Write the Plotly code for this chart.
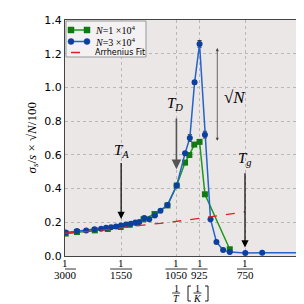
import plotly.graph_objects as go

# x values are 1/T in units of 1e-3 K^-1
blue_x = [0.3372, 0.3996, 0.4510, 0.4974, 0.5339, 0.5615, 0.5891, 0.6168, 0.6444, 0.6720,
          0.6996, 0.7240, 0.7460, 0.7737, 0.8013, 0.8322, 0.8637, 0.9024, 0.9538, 1.0002,
          1.0268, 1.0533, 1.0809, 1.1107, 1.1417, 1.1748, 1.2118, 1.2488, 1.3350, 1.4289, 1.6632]
blue_y = [0.140, 0.148, 0.152, 0.158, 0.162, 0.167, 0.171, 0.175, 0.181, 0.187,
          0.191, 0.198, 0.202, 0.226, 0.218, 0.240, 0.268, 0.302, 0.418, 0.609,
          0.700, 1.030, 1.258, 0.720, 0.218, 0.083, 0.035, 0.023, 0.018, 0.019, 0.020]
blue_err = [0, 0, 0, 0, 0, 0, 0, 0, 0, 0,
            0, 0, 0, 0, 0, 0, 0, 0, 0, 0.01,
            0.02, 0.01, 0.02, 0.02, 0, 0, 0, 0, 0, 0, 0]

green_x = [0.3372, 0.3996, 0.4989, 0.5709, 0.6427, 0.6924, 0.7366, 0.7698, 0.8306, 0.9024,
           0.9538, 1.0002, 1.0240, 1.0516, 1.0809, 1.1107, 1.2488]
green_y = [0.133, 0.142, 0.152, 0.160, 0.172, 0.185, 0.195, 0.218, 0.249, 0.300,
           0.418, 0.554, 0.599, 0.661, 0.677, 0.366, 0.040]

fit_x = [0.3333, 0.5157, 0.7366, 0.9024, 1.0681, 1.1786, 1.3333]
fit_y = [0.135, 0.150, 0.180, 0.198, 0.222, 0.238, 0.262]

tick_temps = [3000, 1550, 1050, 925, 750]
tick_vals = [1000.0 / t for t in tick_temps]
y_ticks = [0.0, 0.2, 0.4, 0.6, 0.8, 1.0, 1.2, 1.4]

legend_labels = ["<i>N</i>=1 ×10<sup>4</sup>", "<i>N</i>=3 ×10<sup>4</sup>", "Arrhenius Fit"]

SERIF = "Liberation Serif"
SANS = "DejaVu Sans"
GREEN_L, GREEN_M = "#1e991e", "#137a13"
BLUE_L, BLUE_M = "#2563c8", "#0d3f9e"
RED = "#e02020"

fig = go.Figure()
fig.add_trace(go.Scatter(
    x=green_x, y=green_y, mode="lines+markers", name=legend_labels[0],
    line=dict(color=GREEN_L, width=1.5),
    marker=dict(symbol="square", size=6, color=GREEN_M),
))
fig.add_trace(go.Scatter(
    x=blue_x, y=blue_y, mode="lines+markers", name=legend_labels[1],
    line=dict(color=BLUE_L, width=1.5),
    marker=dict(symbol="circle", size=6, color=BLUE_M),
    error_y=dict(type="data", array=blue_err, visible=True, color="#333333",
                 thickness=1, width=2),
))
fig.add_trace(go.Scatter(
    x=fit_x, y=fit_y, mode="lines", name=legend_labels[2],
    line=dict(color=RED, width=1.3, dash="dash"),
))

ann = []
shapes = []
# fraction tick labels
widths = [22, 22, 22, 16, 16]
for t, v, w in zip(tick_temps, tick_vals, widths):
    ann.append(dict(x=v, y=0, xref="x", yref="paper", text="1", showarrow=False,
                    yanchor="middle", xanchor="center", yshift=-7, borderpad=0,
                    font=dict(family=SERIF, size=11, color="black")))
    ann.append(dict(x=v, y=0, xref="x", yref="paper", text=str(t), showarrow=False,
                    yanchor="middle", xanchor="center", yshift=-19, borderpad=0,
                    font=dict(family=SERIF, size=11, color="black")))
    shapes.append(dict(type="line", xref="x", yref="paper", xsizemode="pixel",
                       ysizemode="pixel", xanchor=v, yanchor=0,
                       x0=-w / 2, x1=w / 2, y0=-13, y1=-13,
                       line=dict(color="black", width=0.8)))

# x axis title as fractions
def frac(xp, num, den, yc):
    ann.append(dict(x=xp, y=0, xref="paper", yref="paper", text=num, showarrow=False,
                    yanchor="middle", xanchor="center", yshift=yc + 5, borderpad=0,
                    font=dict(family=SERIF, size=10, color="black")))
    ann.append(dict(x=xp, y=0, xref="paper", yref="paper", text=den, showarrow=False,
                    yanchor="middle", xanchor="center", yshift=yc - 5, borderpad=0,
                    font=dict(family=SERIF, size=10, color="black", style="italic")))
    shapes.append(dict(type="line", xref="paper", yref="paper", xsizemode="pixel",
                       ysizemode="pixel", xanchor=xp, yanchor=0,
                       x0=-4, x1=4, y0=yc, y1=yc,
                       line=dict(color="black", width=0.8)))

frac(0.463, "1", "T", -37)
frac(0.552, "1", "K", -37)
# square brackets drawn as paths (pixel offsets from bottom-left of plot area)
for path in ["M 126,-30 L 123,-30 L 123,-45 L 126,-45",
             "M 140,-30 L 143,-30 L 143,-45 L 140,-45"]:
    shapes.append(dict(type="path", xref="paper", yref="paper", xsizemode="pixel",
                       ysizemode="pixel", xanchor=0, yanchor=0, path=path,
                       line=dict(color="black", width=0.9)))

# custom legend (pixel offsets from the top-left corner of the plot area)
shapes.append(dict(type="rect", xref="paper", yref="paper", xsizemode="pixel",
                   ysizemode="pixel", xanchor=0, yanchor=1, x0=1, x1=81, y0=-1, y1=-37,
                   line=dict(color="#999999", width=1), fillcolor="rgba(243,241,241,0.95)"))
rows = [-10, -21.5, -32.5]
styles = [(GREEN_L, GREEN_M, "rect", "solid"), (BLUE_L, BLUE_M, "circle", "solid"),
          (RED, None, None, "dash")]
for ry, (lc, mc, mk, dash), lab in zip(rows, styles, legend_labels):
    shapes.append(dict(type="line", xref="paper", yref="paper", xsizemode="pixel",
                       ysizemode="pixel", xanchor=0, yanchor=1, x0=6, x1=22, y0=ry, y1=ry,
                       line=dict(color=lc, width=1.5, dash=dash)))
    if mk:
        for cx in (6, 22):
            shapes.append(dict(type=mk, xref="paper", yref="paper", xsizemode="pixel",
                               ysizemode="pixel", xanchor=0, yanchor=1,
                               x0=cx - 3, x1=cx + 3, y0=ry - 3, y1=ry + 3,
                               line=dict(color=mc, width=0.5), fillcolor=mc))
    ann.append(dict(x=0, y=1, xref="paper", yref="paper", xshift=29, yshift=ry,
                    xanchor="left", yanchor="middle", text=lab, showarrow=False,
                    borderpad=0,
                    font=dict(family=SERIF if mk else SANS, size=10 if mk else 8,
                              color="black")))

# annotations with arrows
lab_font = dict(family=SERIF, size=15, color="black")
ann.append(dict(x=1000 / 1550, y=0.625, text="<i>T</i><sub><i>A</i></sub>",
                showarrow=False, font=lab_font))
ann.append(dict(x=1000 / 1550, y=0.22, ax=1000 / 1550, ay=0.56, axref="x", ayref="y",
                showarrow=True, arrowhead=2, arrowsize=1.2, arrowwidth=1.2,
                arrowcolor="black", text=""))
ann.append(dict(x=0.945, y=0.9, text="<i>T</i><sub><i>D</i></sub>",
                showarrow=False, font=lab_font))
ann.append(dict(x=1000 / 1050, y=0.515, ax=1000 / 1050, ay=0.825, axref="x", ayref="y",
                showarrow=True, arrowhead=2, arrowsize=1.2, arrowwidth=1.6,
                arrowcolor="#555555", text=""))
ann.append(dict(x=1.275, y=0.94, text="√<i>N</i>",
                showarrow=False, font=dict(family=SERIF, size=17, color="black")))
ann.append(dict(x=1.1795, y=0.683, ax=1.1795, ay=1.243, axref="x", ayref="y",
                showarrow=True, arrowhead=2, arrowside="end+start", arrowsize=0.8,
                arrowwidth=0.8, arrowcolor="#444444", text=""))
ann.append(dict(x=1000 / 750, y=0.578, text="<i>T</i><sub><i>g</i></sub>",
                showarrow=False, font=lab_font))
ann.append(dict(x=1000 / 750, y=0.05, ax=1000 / 750, ay=0.5, axref="x", ayref="y",
                showarrow=True, arrowhead=2, arrowsize=1.2, arrowwidth=1.2,
                arrowcolor="black", text=""))

# y axis label
ann.append(dict(x=0, y=0.5, xref="paper", yref="paper", xshift=-44, textangle=-90,
                text="<i>σ<sub>s</sub></i>/<i>s</i> × √<i>N</i>/100",
                showarrow=False, font=dict(family=SERIF, size=13, color="black")))

fig.update_layout(
    width=304, height=304,
    margin=dict(l=57, r=6, t=8, b=56),
    paper_bgcolor="white",
    plot_bgcolor="#ebe7e7",
    showlegend=False,
    annotations=ann,
    shapes=shapes,
    font=dict(family=SANS, size=11, color="black"),
)
fig.update_xaxes(range=[1 / 3, 5 / 3], tickvals=tick_vals, showticklabels=False,
                 showgrid=True, gridcolor="#b8b8b8", griddash="dot", gridwidth=1,
                 showline=True, linecolor="#444444", linewidth=1, mirror=True,
                 zeroline=False, ticks="")
fig.update_yaxes(range=[0, 1.4], tickvals=y_ticks, ticktext=[f"{v:.1f}" for v in y_ticks],
                 showgrid=True, gridcolor="#b8b8b8", griddash="dot", gridwidth=1,
                 showline=True, linecolor="#444444", linewidth=1, mirror=True,
                 zeroline=False, ticks="", tickfont=dict(family=SANS, size=11))

fig.write_html("out.html")
